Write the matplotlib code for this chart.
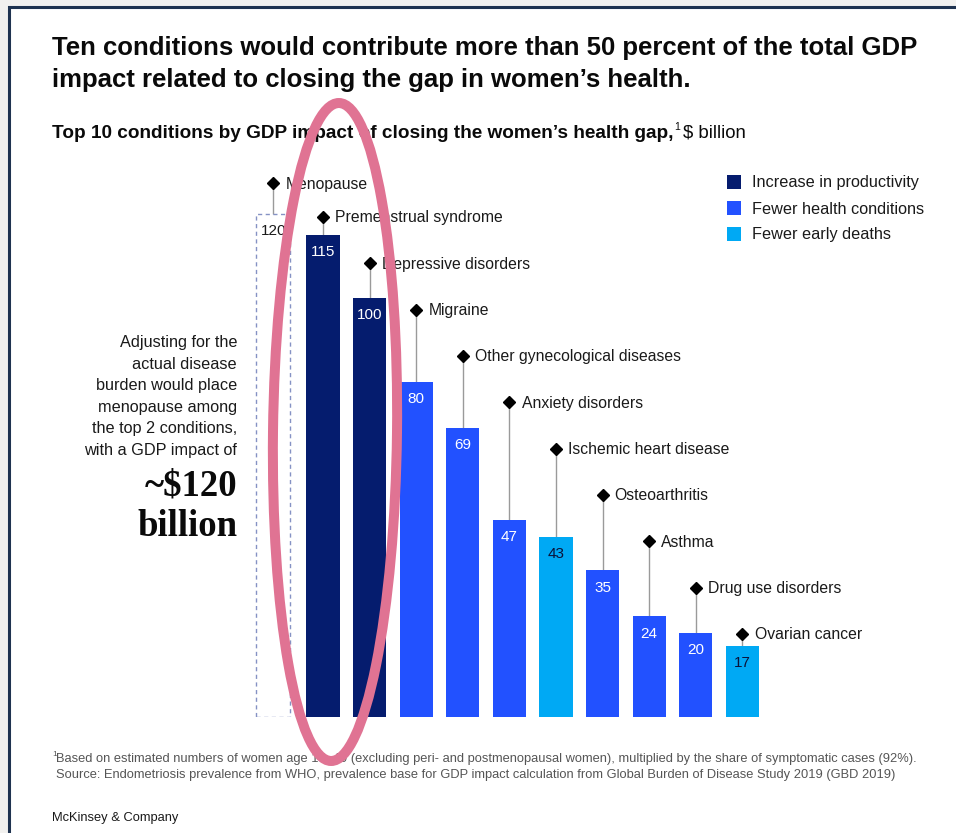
import matplotlib
matplotlib.use("Agg")
import matplotlib.pyplot as plt
from matplotlib.patches import Rectangle, Ellipse

# ---- data ----
conditions = ["Premenstrual syndrome", "Depressive disorders", "Migraine",
              "Other gynecological diseases", "Anxiety disorders",
              "Ischemic heart disease", "Osteoarthritis", "Asthma",
              "Drug use disorders", "Ovarian cancer"]
values = [115, 100, 80, 69, 47, 43, 35, 24, 20, 17]
drivers = ["Increase in productivity", "Increase in productivity",
           "Fewer health conditions", "Fewer health conditions",
           "Fewer health conditions", "Fewer early deaths",
           "Fewer health conditions", "Fewer health conditions",
           "Fewer health conditions", "Fewer early deaths"]
menopause_label = "Menopause"
menopause_value = 120
legend_labels = ["Increase in productivity", "Fewer health conditions", "Fewer early deaths"]

colors = {"Increase in productivity": "#051c6e",
          "Fewer health conditions": "#2251ff",
          "Fewer early deaths": "#00a9f4"}
text_on = {"Increase in productivity": "white",
           "Fewer health conditions": "white",
           "Fewer early deaths": "#0b1238"}

W, H = 956, 833
fig = plt.figure(figsize=(W / 100, H / 100), dpi=100)
fig.patch.set_facecolor("#f2f1ef")
FONT = "Liberation Sans"


def fx(x):
    return x / W


def fy(y):
    return 1 - y / H


# white card with dark border
card = Rectangle((fx(9), fy(H + 20)), fx(W + 20), (H + 20 - 7) / H,
                 transform=fig.transFigure, facecolor="white",
                 edgecolor="#1f3350", linewidth=2.2, zorder=-10)
fig.patches.append(card)

# title
fig.text(fx(52), fy(48), "Ten conditions would contribute more than 50 percent of the total GDP",
         fontsize=18.5, fontweight="bold", family=FONT, color="#0a0a0a", va="center")
fig.text(fx(52), fy(80), "impact related to closing the gap in women\u2019s health.",
         fontsize=18.5, fontweight="bold", family=FONT, color="#0a0a0a", va="center")

# subtitle
sub = fig.text(fx(52), fy(133), "Top 10 conditions by GDP impact of closing the women\u2019s health gap,",
               fontsize=13.7, fontweight="bold", family=FONT, color="#0a0a0a", va="center")
fig.canvas.draw()
bb = sub.get_window_extent()
x_end = bb.x1
fig.text(x_end / W + 0.001, fy(127), "1", fontsize=7.5, family=FONT, color="#0a0a0a", va="center")
fig.text(x_end / W + 0.0095, fy(133), "$ billion", fontsize=13.4, family=FONT,
         color="#0a0a0a", va="center")

# ---- bar axes ----
px_per_unit = 4.19
base_px = 717
left_px = 323 - 2 * 46.6
right_px = 323 + 11 * 46.6
ax = fig.add_axes([fx(left_px), 1 - base_px / H, (right_px - left_px) / W, 150 * px_per_unit / H])
ax.set_xlim(-2, 11)
ax.set_ylim(0, 150)
ax.axis("off")
ax.patch.set_alpha(0)

bw = 0.71
pos = list(range(len(values)))
bar_colors = [colors[d] for d in drivers]
ax.bar(pos, values, width=bw, color=bar_colors, zorder=2)

# menopause dashed bar
mp = -1.07
ax.bar([mp], [menopause_value], width=0.74, facecolor="none", edgecolor="#8592c4",
       linestyle=(0, (3, 2.5)), linewidth=1.0, zorder=2)
ax.text(mp, menopause_value - 4, str(menopause_value), ha="center", va="center",
        fontsize=11, family=FONT, color="#1a1a1a", zorder=3)

# label positions (layout)
lab_y = [119.3 - 11.05 * i for i in range(len(values))]
for i, (name, v) in enumerate(zip(conditions, values)):
    ax.vlines(i, v, lab_y[i], color="#9a9a9a", linewidth=1.0, zorder=1)
    ax.plot(i, lab_y[i], marker="D", markersize=6.6, color="black", zorder=3)
    ax.text(i + 0.26, lab_y[i] - 0.2, name, ha="left", va="center", fontsize=11.3,
            family=FONT, color="#1a1a1a", zorder=3)
    ax.text(i, v - 4.1, str(v), ha="center", va="center", fontsize=11, family=FONT,
            color=text_on[drivers[i]], zorder=3)

mlab = 127.4
ax.vlines(mp, menopause_value, mlab, color="#9a9a9a", linewidth=1.0, zorder=1)
ax.plot(mp, mlab, marker="D", markersize=6.6, color="black", zorder=3)
ax.text(mp + 0.26, mlab - 0.2, menopause_label, ha="left", va="center", fontsize=11.3,
        family=FONT, color="#1a1a1a", zorder=3)

# legend
for k, lab in enumerate(legend_labels):
    yc = 182 + 26 * k
    fig.patches.append(Rectangle((fx(727), fy(yc + 7)), 14 / W, 14 / H,
                                 transform=fig.transFigure, facecolor=colors[lab],
                                 edgecolor="none"))
    fig.text(fx(752), fy(yc + 1), lab, fontsize=11.7, family=FONT, color="#1a1a1a", va="center")

# left annotation
ann = ["Adjusting for the", "actual disease", "burden would place",
       "menopause among", "the top 2 conditions,", "with a GDP impact of"]
for k, line in enumerate(ann):
    fig.text(fx(237), fy(343 + 21.5 * k), line, ha="right", va="center", fontsize=11.7,
             family=FONT, color="#1a1a1a")
fig.text(fx(237), fy(486), "~$120", ha="right", va="center", fontsize=26.5,
         fontweight="bold", family="Liberation Serif", color="#0a0a0a")
fig.text(fx(237), fy(527), "billion", ha="right", va="center", fontsize=26.5,
         fontweight="bold", family="Liberation Serif", color="#0a0a0a")

# footnotes
fig.text(fx(52), fy(755), "1", fontsize=6, family=FONT, color="#555555", va="center")
fig.text(fx(56), fy(759),
         "Based on estimated numbers of women age 15\u201349 (excluding peri- and postmenopausal women), "
         "multiplied by the share of symptomatic cases (92%).",
         fontsize=9.3, family=FONT, color="#555555", va="center")
fig.text(fx(56), fy(775),
         "Source: Endometriosis prevalence from WHO, prevalence base for GDP impact calculation "
         "from Global Burden of Disease Study 2019 (GBD 2019)",
         fontsize=9.25, family=FONT, color="#555555", va="center")
fig.text(fx(52), fy(818), "McKinsey & Company", fontsize=9.3, family=FONT,
         color="#1a1a1a", va="center")

# pink ellipse highlight
ell = Ellipse((fx(335), fy(432)), 124 / W, 658 / H, angle=-0.6,
              transform=fig.transFigure, facecolor="none", edgecolor="#e07393",
              linewidth=7.2, zorder=10)
fig.patches.append(ell)

fig.savefig("out.png", dpi=100)
